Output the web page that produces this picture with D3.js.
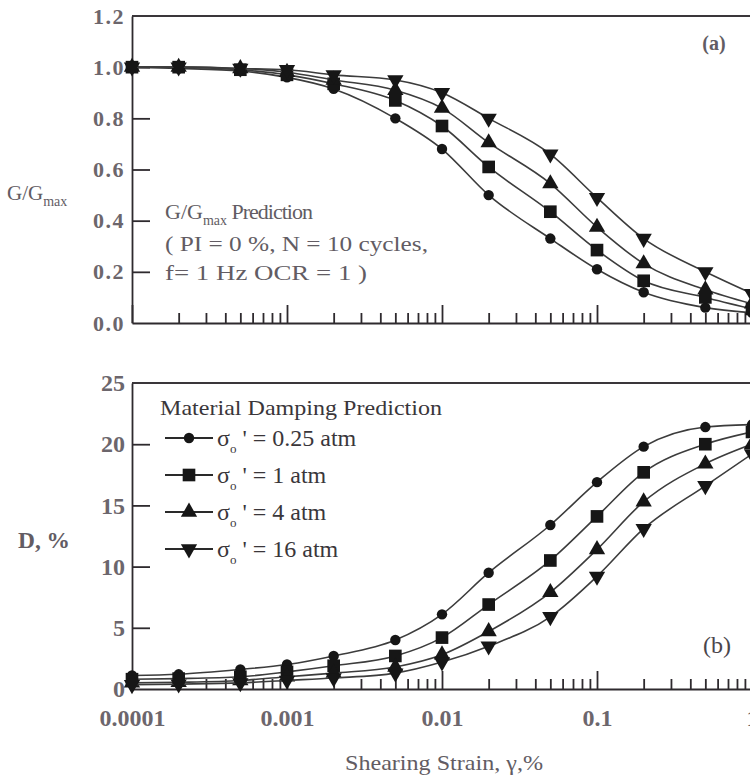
<!DOCTYPE html>
<html>
<head>
<meta charset="utf-8">
<script src="https://cdn.jsdelivr.net/npm/d3@7"></script>
<style>
  body { margin: 0; background: #fff; }
  svg text { font-family: "Liberation Serif", "DejaVu Serif", serif; }
  .axis path, .axis line { stroke: #2e2a2e; stroke-width: 1.8; }
  .axis text { fill: #6c666c; font-family: "Liberation Serif", "DejaVu Serif", serif; }
</style>
</head>
<body>
<svg id="chart" width="750" height="777"></svg>
<script>
// shearing strain (%) at each prediction point
const strains = [0.0001, 0.0002, 0.0005, 0.001, 0.002, 0.005, 0.01, 0.02, 0.05, 0.1, 0.2, 0.5, 1];

// confining pressure series
const pressures = ["0.25", "1", "4", "16"];
const shapes = ["circle", "square", "up", "down"];

// G/Gmax values
const gg025 = [1.0, 0.995, 0.985, 0.96, 0.915, 0.80, 0.68, 0.50, 0.33, 0.21, 0.12, 0.06, 0.04];
const gg1   = [1.0, 1.0, 0.99, 0.97, 0.935, 0.87, 0.77, 0.61, 0.435, 0.285, 0.165, 0.10, 0.055];
const gg4   = [1.0, 1.0, 0.995, 0.98, 0.95, 0.91, 0.84, 0.705, 0.545, 0.375, 0.232, 0.13, 0.075];
const gg16  = [1.0, 1.0, 0.995, 0.99, 0.97, 0.95, 0.90, 0.80, 0.66, 0.49, 0.33, 0.20, 0.115];

// damping D (%)
const d025 = [1.1, 1.2, 1.6, 2.0, 2.7, 4.0, 6.1, 9.5, 13.4, 16.9, 19.8, 21.4, 21.6];
const d1   = [0.8, 0.85, 1.0, 1.4, 1.9, 2.7, 4.2, 6.9, 10.5, 14.1, 17.7, 20.0, 21.0];
const d4   = [0.5, 0.55, 0.7, 1.0, 1.3, 1.8, 2.8, 4.7, 7.9, 11.4, 15.3, 18.4, 20.0];
const d16  = [0.35, 0.4, 0.5, 0.7, 0.9, 1.3, 2.2, 3.5, 5.9, 9.2, 13.1, 16.6, 19.2];

const xTickLabels = ["0.0001", "0.001", "0.01", "0.1", "1"];
const ggTicks = [0, 0.2, 0.4, 0.6, 0.8, 1.0, 1.2];
const dTicks = [0, 5, 10, 15, 20, 25];

const ggSeries = [gg025, gg1, gg4, gg16];
const dSeries = [d025, d1, d4, d16];

const svg = d3.select("#chart");

const x = d3.scaleLog().domain([0.0001, 1]).range([132, 752]);
const yTop = d3.scaleLinear().domain([0, 1.2]).range([323, 16]);
const yBot = d3.scaleLinear().domain([0, 25]).range([689, 383]);

const isMajor = d => Math.abs(Math.log10(d) - Math.round(Math.log10(d))) < 1e-6;

function symbolFor(shape) {
    if (shape === "circle") return d3.symbol().type(d3.symbolCircle).size(85);
    if (shape === "square") return d3.symbol().type(d3.symbolSquare).size(160);
    return d3.symbol().type(d3.symbolTriangle).size(115);
}

function drawPanel(y, yTicks, fmt, seriesList, labelSize, showXLabels) {
    const top = y.range()[1], bottom = y.range()[0];

    // frame: top line (left and bottom come from the axes)
    svg.append("line").attr("x1", x(0.0001)).attr("x2", 752)
        .attr("y1", top).attr("y2", top)
        .attr("stroke", "#3a363a").attr("stroke-width", 2);

    const yAxis = svg.append("g").attr("class", "axis")
        .attr("transform", `translate(${x(0.0001)},0)`)
        .call(d3.axisLeft(y).tickValues(yTicks).tickSize(-18).tickSizeOuter(0).tickPadding(7).tickFormat(fmt));
    yAxis.attr("font-family", null);
    yAxis.selectAll(".tick text")
        .style("font-size", labelSize + "px").style("font-weight", "bold")
        .style("letter-spacing", labelSize < 24 ? "1.5px" : "0px");
    // no inner tick at the frame ends
    yAxis.selectAll(".tick line").filter(d => d === yTicks[0] || d === yTicks[yTicks.length - 1]).remove();

    const xAxis = svg.append("g").attr("class", "axis")
        .attr("transform", `translate(0,${bottom})`)
        .call(d3.axisBottom(x).tickSize(-10).tickSizeOuter(0).tickPadding(20)
            .tickFormat(d => showXLabels && isMajor(d) ? xTickLabels[Math.round(Math.log10(d)) + 4] : ""));
    xAxis.attr("font-family", null);
    xAxis.selectAll(".tick line").filter(d => isMajor(d)).attr("y2", -18);
    xAxis.selectAll(".tick text").style("font-size", "24px").style("font-weight", "bold");

    const line = d3.line()
        .x((d, i) => x(strains[i]))
        .y(d => y(d))
        .curve(d3.curveMonotoneX);

    seriesList.forEach((vals, s) => {
        svg.append("path").datum(vals)
            .attr("d", line)
            .attr("fill", "none")
            .attr("stroke", "#3c3c3c")
            .attr("stroke-width", 1.6);
        svg.selectAll(null).data(vals).enter().append("path")
            .attr("d", symbolFor(shapes[s]))
            .attr("transform", (d, i) => `translate(${x(strains[i])},${y(d)})` + (shapes[s] === "down" ? " rotate(180)" : ""))
            .attr("fill", "#161616");
    });
}

drawPanel(yTop, ggTicks, d3.format(".1f"), ggSeries, 22, false);
drawPanel(yBot, dTicks, d3.format("d"), dSeries, 24, true);

// panel (a) annotations
const gray = "#625c63";
const yTitle = svg.append("text").attr("x", 7).attr("y", 200).attr("fill", gray).style("font-size", "21px");
yTitle.append("tspan").text("G/G");
yTitle.append("tspan").attr("dy", 6).style("font-size", "14px").text("max");

const pred = svg.append("text").attr("x", 165).attr("y", 219).attr("fill", gray).style("font-size", "22px");
pred.append("tspan").text("G/G");
pred.append("tspan").attr("dy", 6).style("font-size", "14px").text("max");
pred.append("tspan").attr("dy", -6).style("letter-spacing", "-1px").text(" Prediction");

svg.append("text").attr("x", 165).attr("y", 251).attr("fill", gray)
    .style("font-size", "22px").attr("textLength", 263).attr("lengthAdjust", "spacingAndGlyphs")
    .text("( PI = 0 %, N = 10 cycles,");
svg.append("text").attr("x", 165).attr("y", 280).attr("fill", gray)
    .style("font-size", "22px").attr("textLength", 202).attr("lengthAdjust", "spacingAndGlyphs")
    .text("f= 1 Hz OCR = 1 )");

svg.append("text").attr("x", 714).attr("y", 50).attr("text-anchor", "middle")
    .attr("fill", gray).style("font-size", "20px").style("font-weight", "bold").text("(a)");

// panel (b) annotations
svg.append("text").attr("x", 18).attr("y", 548).attr("fill", gray)
    .style("font-size", "23px").style("font-weight", "bold")
    .attr("textLength", 52).attr("lengthAdjust", "spacingAndGlyphs").text("D, %");

svg.append("text").attr("x", 717).attr("y", 653).attr("text-anchor", "middle")
    .attr("fill", "#4a454b").style("font-size", "24px").text("(b)");

svg.append("text").attr("x", 160).attr("y", 415).attr("fill", "#3a363a")
    .style("font-size", "22px").attr("textLength", 282).attr("lengthAdjust", "spacingAndGlyphs")
    .text("Material Damping Prediction");

const legend = svg.append("g");
pressures.forEach((p, s) => {
    const ly = 438 + s * 37;
    legend.append("line").attr("x1", 165).attr("x2", 213).attr("y1", ly).attr("y2", ly)
        .attr("stroke", "#2a2a2a").attr("stroke-width", 1.8);
    legend.append("path").attr("d", symbolFor(shapes[s]))
        .attr("transform", `translate(189,${ly})` + (shapes[s] === "down" ? " rotate(180)" : ""))
        .attr("fill", "#161616");
    const t = legend.append("text").attr("x", 217).attr("y", ly + 8).attr("fill", "#3a363a").style("font-size", "24px");
    t.append("tspan").text("σ");
    t.append("tspan").attr("dy", 7).style("font-size", "13px").text("o");
    t.append("tspan").attr("dy", -7).text(` ' = ${p} atm`);
});

// x axis title
svg.append("text").attr("x", 444).attr("y", 770).attr("text-anchor", "middle")
    .attr("fill", gray).style("font-size", "21px")
    .attr("textLength", 198).attr("lengthAdjust", "spacingAndGlyphs")
    .text("Shearing Strain, γ,%");
</script>
</body>
</html>
